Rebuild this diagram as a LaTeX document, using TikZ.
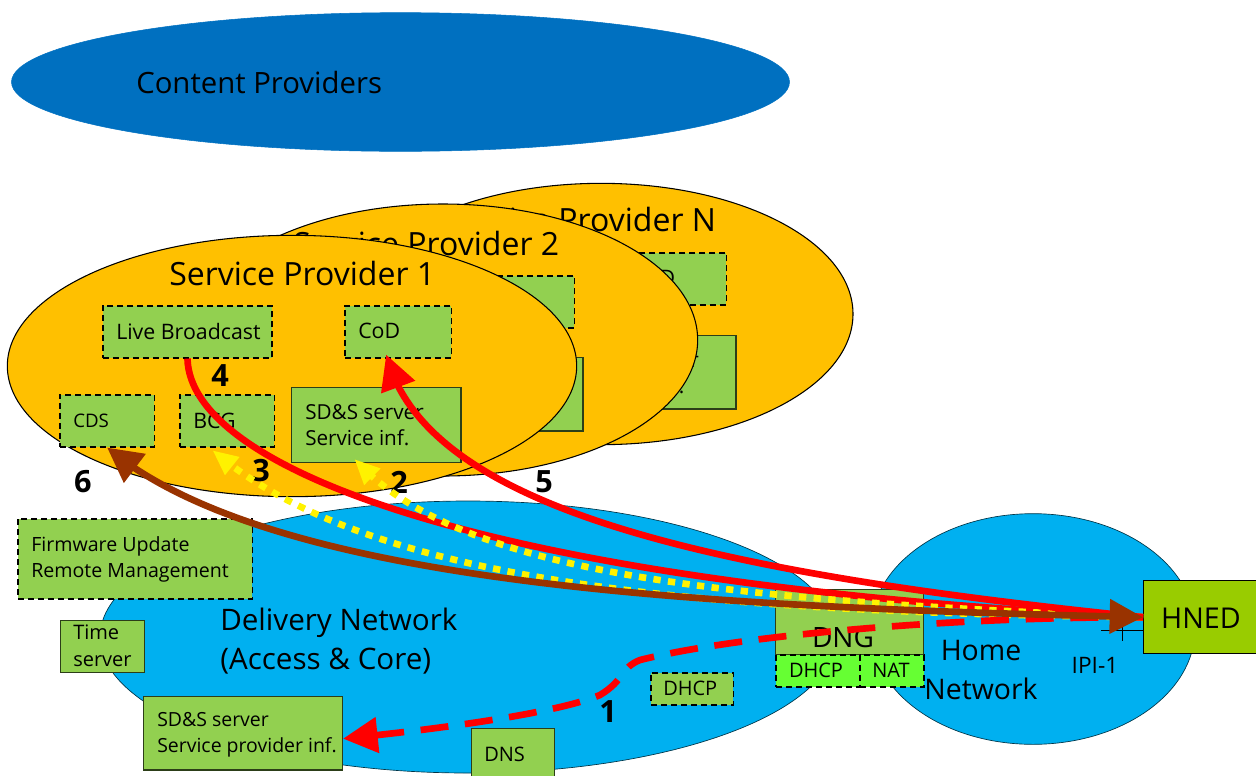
\documentclass[tikz,border=0pt]{standalone}
\usepackage{fontspec}
\setmainfont{Open Sans}
\usetikzlibrary{arrows.meta,shapes.geometric,bending}
\definecolor{cpblue}{HTML}{0070C0}
\definecolor{spor}{HTML}{FFC000}
\definecolor{netblue}{HTML}{00B0F0}
\definecolor{boxgreen}{HTML}{92D050}
\definecolor{brightgreen}{HTML}{66FF33}
\definecolor{hnedgreen}{HTML}{99CC00}
\definecolor{brownarrow}{HTML}{993300}
\newcommand{\fs}[1]{\fontsize{#1}{#1}\selectfont}
\tikzset{
 ell/.style={ellipse,draw=black,line width=0.8pt,fill=spor,inner sep=0pt},
 net/.style={ellipse,draw=black!70!netblue,line width=0.5pt,fill=netblue,inner sep=0pt},
 sbox/.style={rectangle,draw=black!70!boxgreen,line width=1pt,fill=boxgreen,inner sep=0pt,anchor=north west,align=left},
 dbox/.style={rectangle,draw=black,dash pattern=on 4.5pt off 3pt,line width=1.2pt,fill=boxgreen,inner sep=0pt,anchor=north west,align=left},
 lab/.style={inner sep=0pt,align=left,anchor=west},
 ctext/.style={inner sep=0pt,align=center,anchor=center},
 num/.style={inner sep=0pt,font=\fs{23}\bfseries},
 redflow/.style={draw=red,line width=5pt,-{Triangle[length=26pt,width=26pt,flex=0.9]}},
 reddash/.style={redflow,dash pattern=on 21pt off 12.5pt,line width=5pt},
 redplain/.style={draw=red,line width=5pt},
 yelflow/.style={draw=yellow,line width=5pt,dash pattern=on 5.5pt off 5.5pt,-{Triangle[length=19pt,width=16pt,flex=0.9]}},
 brownflow/.style={draw=brownarrow,line width=5pt,{Triangle[length=26pt,width=26pt,flex=0.9]}-{Triangle[length=25pt,width=25pt,flex=0.9]}},
}
\begin{document}
\begin{tikzpicture}[x=0.75pt,y=-0.75pt]
\useasboundingbox (0,0) rectangle (1256,775);
% content providers
\node[ellipse,fill=cpblue,draw=cpblue,inner sep=0pt,minimum width=583.5pt,minimum height=104pt] (cp) at (400.5,82) {};
\node[lab,font=\fs{22}] (cpl) at (136,82) {Content Providers};
% delivery + home
\node[net,minimum width=552pt,minimum height=204pt] (dn) at (468,637) {};
\node[net,minimum width=243pt,minimum height=173pt] (hn) at (1033,629) {};
\node[lab,font=\fs{22.2}] (dnl) at (220,641) {Delivery Network\\[7.5pt](Access \& Core)};
% SP N
\node[ell,minimum width=378pt,minimum height=196pt] (spn) at (601,314) {};
\node[lab,font=\fs{24}] (spnl) at (444,219) {Service Provider N};
\node[dbox,minimum width=80pt,minimum height=39pt] (nb1) at (619,252) {};
\node[lab,font=\fs{16}] (nb1l) at (633,278) {CoD};
\node[sbox,minimum width=127pt,minimum height=55pt] (nb2) at (566,335) {};
\node[lab,font=\fs{15.5}] (nb2l) at (580,373) {SD\&S server\\[4pt]Service inf.};
% SP 2
\node[ell,minimum width=382pt,minimum height=204pt] (sp2) at (443,340) {};
\node[lab,font=\fs{24}] (sp2l) at (293,243) {Service Provider 2};
\node[dbox,minimum width=80pt,minimum height=39pt] (b1) at (467,275) {};
\node[sbox,minimum width=127pt,minimum height=55pt] (b2) at (413,357) {};
% SP 1
\node[ell,minimum width=427pt,minimum height=196pt] (sp1) at (292,366) {};
\node[lab,font=\fs{24}] (sp1l) at (169,273) {Service Provider 1};
\node[dbox,minimum width=127pt,minimum height=39pt] (live) at (102,305) {};
\node[lab,font=\fs{16}] (livel) at (116,331) {Live Broadcast};
\node[dbox,minimum width=80pt,minimum height=39pt] (cod) at (344,305) {};
\node[lab,font=\fs{16}] (codl) at (358,331) {CoD};
\node[dbox,minimum width=71pt,minimum height=39pt] (cds) at (59,394) {};
\node[lab,font=\fs{14}] (cdsl) at (73,421) {CDS};
\node[dbox,minimum width=71pt,minimum height=39pt] (bcg) at (179,394) {};
\node[lab,font=\fs{16}] (bcgl) at (193,421) {BCG};
\node[sbox,minimum width=127pt,minimum height=56pt] (sds) at (291,387) {};
\node[lab,font=\fs{15.5}] (sdsl) at (305,425) {SD\&S server\\[4.5pt]Service inf.};
% lower boxes
\node[dbox,minimum width=176pt,minimum height=60pt] (fw) at (17,518) {};
\node[lab,font=\fs{14.7}] (fwl) at (31,559) {Firmware Update\\[4.8pt]Remote Management};
\node[sbox,minimum width=63pt,minimum height=39pt] (time) at (60,620) {};
\node[lab,font=\fs{15}] (timel) at (73,645.5) {Time\\[5pt]server};
\node[sbox,minimum width=149pt,minimum height=55pt] (sp) at (143,696) {};
\node[lab,font=\fs{14.6}] (spl) at (157,735) {SD\&S server\\[5pt]Service provider inf.};
\node[sbox,minimum width=62pt,minimum height=40pt] (dns) at (471,728) {};
\node[lab,font=\fs{15}] (dnsl) at (484,754) {DNS};
\node[dbox,minimum width=62pt,minimum height=24pt] (dhcp) at (650,672) {};
\node[lab,font=\fs{15}] (dhcpl) at (663,688) {DHCP};
% DNG
\node[sbox,minimum width=111.4pt,minimum height=48.75pt] (dng) at (774.5,589) {};
\node[ctext,font=\fs{21}] (dngl) at (843,637) {DNG};
\node[dbox,fill=brightgreen,minimum width=63pt,minimum height=24pt] (dhcp2) at (775,654) {};
\node[dbox,fill=brightgreen,minimum width=48pt,minimum height=24pt] (nat) at (859,654) {};
\node[ctext,font=\fs{15}] (dhcp2l) at (816,670) {DHCP};
\node[ctext,font=\fs{15}] (natl) at (891,670) {NAT};
% home labels
\node[ctext,font=\fs{21.3}] (homel) at (981,670) {Home\\[7.5pt]Network};
\node[ctext,font=\fs{17}] (ipil) at (1095,665) {IPI-1};
% HNED
\node[rectangle,draw=black,line width=0.8pt,fill=hnedgreen,inner sep=0pt,anchor=north west,minimum width=90pt,minimum height=55pt] (hned) at (1143,580) {};
\node[ctext,font=\fs{21.5}] (hnedl) at (1201,618) {HNED};
% interface tick
\coordinate (ipia) at (1101,630);
\coordinate (ipib) at (1122.5,622);
\coordinate (ipic) at (1122.5,641);
\draw[black,line width=0.6pt] (ipia) -- (hned.west |- ipia);
\draw[black,line width=0.6pt] (ipib) -- (ipic);
% numbers
\node[num] (n4) at (220,376) {4};
\node[num] (n3) at (261,471) {3};
\node[num] (n2) at (399,482) {2};
\node[num] (n5) at (544,482) {5};
\node[num] (n6) at (83,482) {6};
\node[num] (n1) at (608,712) {1};
% flows
\draw[redplain] (live.south) .. controls (190,470) and (490,585) .. (hned.west);
\draw[yelflow] (hned.west) .. controls (720,600) and (460,575) .. ([xshift=-16.5pt,yshift=3pt]sds.south);
\draw[yelflow] (hned.west) .. controls (700,612) and (370,585) .. ([xshift=-11pt,yshift=-2pt]bcg.south);
\draw[redflow] (hned.west) .. controls (700,572) and (425,507) .. ([xshift=-9pt,yshift=3pt]cod.south);
\draw[reddash] (hned.west) .. controls (950,617) and (740,635) .. (640,660)
  .. controls (620,668) and (625,680) .. (600,695)
  .. controls (560,712) and (450,728) .. ([yshift=-4pt]sp.east);
\draw[brownflow] (cds.south) .. controls (270,585) and (700,607) .. (hned.west);
\end{tikzpicture}
\end{document}
